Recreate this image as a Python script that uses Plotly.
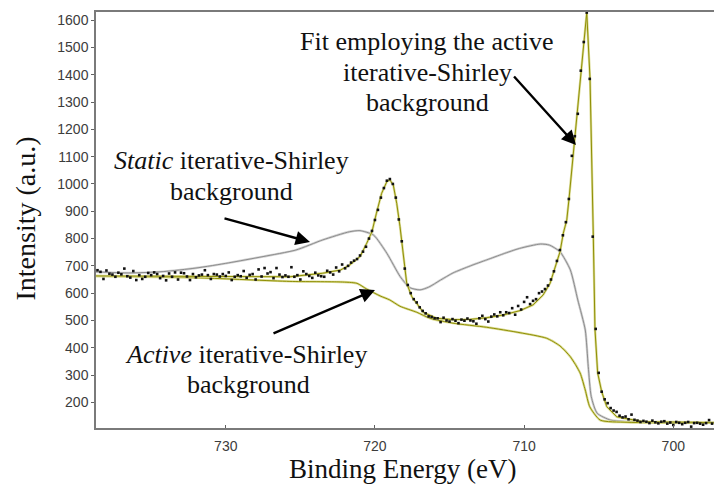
import plotly.graph_objects as go

# ---------------- data ----------------
x_ticks = [730, 720, 710, 700]
y_ticks = [200, 300, 400, 500, 600, 700, 800, 900, 1000, 1100, 1200, 1300, 1400, 1500, 1600]

data_energy = [
    738.6, 738.4, 738.2, 738.0, 737.8, 737.6, 737.4, 737.2, 737.0, 736.8,
    736.6, 736.4, 736.2, 736.0, 735.8, 735.6, 735.4, 735.2, 735.0, 734.8,
    734.6, 734.4, 734.2, 734.0, 733.8, 733.6, 733.4, 733.2, 733.0, 732.8,
    732.6, 732.4, 732.2, 732.0, 731.8, 731.6, 731.4, 731.2, 731.0, 730.8,
    730.6, 730.4, 730.2, 730.0, 729.8, 729.6, 729.4, 729.2, 729.0, 728.8,
    728.6, 728.4, 728.2, 728.0, 727.8, 727.6, 727.4, 727.2, 727.0, 726.8,
    726.6, 726.4, 726.2, 726.0, 725.8, 725.6, 725.4, 725.2, 725.0, 724.8,
    724.6, 724.4, 724.2, 724.0, 723.8, 723.6, 723.4, 723.2, 723.0, 722.8,
    722.6, 722.4, 722.2, 722.0, 721.8, 721.6, 721.4, 721.2, 721.0, 720.8,
    720.6, 720.4, 720.2, 720.0, 719.8, 719.6, 719.4, 719.2, 719.0, 718.8,
    718.6, 718.4, 718.2, 718.0, 717.8, 717.6, 717.4, 717.2, 717.0, 716.8,
    716.6, 716.4, 716.2, 716.0, 715.8, 715.6, 715.4, 715.2, 715.0, 714.8,
    714.6, 714.4, 714.2, 714.0, 713.8, 713.6, 713.4, 713.2, 713.0, 712.8,
    712.6, 712.4, 712.2, 712.0, 711.8, 711.6, 711.4, 711.2, 711.0, 710.8,
    710.6, 710.4, 710.2, 710.0, 709.8, 709.6, 709.4, 709.2, 709.0, 708.8,
    708.6, 708.4, 708.2, 708.0, 707.8, 707.6, 707.4, 707.2, 707.0, 706.8,
    706.6, 706.4, 706.2, 706.0, 705.8, 705.6, 705.4, 705.2, 705.0, 704.8,
    704.6, 704.4, 704.2, 704.0, 703.8, 703.6, 703.4, 703.2, 703.0, 702.8,
    702.6, 702.4, 702.2, 702.0, 701.8, 701.6, 701.4, 701.2, 701.0, 700.8,
    700.6, 700.4, 700.2, 700.0, 699.8, 699.6, 699.4, 699.2, 699.0, 698.8,
    698.6, 698.4, 698.2, 698.0, 697.8, 697.6, 697.4,
]
data_intensity = [
    684, 678, 652, 683, 671, 668, 660, 675, 669, 690,
    662, 657, 681, 648, 666, 652, 660, 674, 666, 676,
    670, 655, 663, 647, 672, 660, 676, 650, 675, 673,
    661, 648, 670, 658, 665, 668, 684, 666, 652, 670,
    668, 661, 670, 663, 676, 648, 660, 666, 662, 681,
    656, 667, 670, 650, 687, 661, 692, 672, 677, 655,
    692, 668, 659, 665, 660, 695, 660, 666, 650, 680,
    670, 663, 656, 675, 665, 662, 660, 682, 676, 668,
    694, 680, 705, 691, 700, 712, 719, 725, 738, 752,
    770, 800, 828, 868, 905, 950, 985, 1012, 1018, 1000,
    950, 870, 790, 690, 630, 600, 578, 566, 548, 535,
    526, 515, 513, 508, 508, 494, 510, 500, 496, 505,
    499, 490, 503, 499, 507, 500, 497, 488, 508, 517,
    505, 496, 514, 522, 515, 530, 519, 530, 527, 545,
    521, 553, 540, 568, 585, 560, 572, 578, 600, 606,
    615, 628, 650, 680, 718, 758, 812, 860, 945, 1103,
    1175, 1257, 1415, 1520, 1628, 1385, 807, 469, 308, 239,
    211, 197, 179, 170, 165, 151, 145, 148, 138, 155,
    136, 133, 128, 132, 129, 124, 133, 127, 123, 129,
    131, 122, 126, 117, 128, 125, 120, 125, 128, 111,
    124, 125, 122, 118, 124, 135, 122,
]

fit_energy = [738.7, 735.1, 731.7, 728.4, 725.7, 723.5, 722.3, 721.7, 721.0, 720.55,
              720.2, 719.9, 719.55, 719.2, 719.0, 718.77, 718.54, 718.32, 718.1, 717.87,
              717.53, 717.2, 716.76, 715.86, 714.77, 713.63, 712.51, 711.41, 710.27, 709.4,
              708.73, 708.26, 707.93, 707.59, 707.37, 707.14, 706.99, 705.8, 705.58, 705.47,
              705.4, 705.36, 705.25, 705.07, 704.8, 704.46, 703.79, 702.03, 698.68, 697.27]
fit_intensity = [663, 662, 660, 660, 660, 673, 685, 703, 734, 783,
                 825, 893, 966, 1009, 1015, 996, 929, 844, 734, 636,
                 587, 563, 530, 508, 503, 504, 510, 520, 536, 557,
                 593, 636, 697, 752, 820, 868, 945, 1628, 1385, 1100,
                 1000, 807, 469, 308, 239, 184, 147, 129, 127, 125]

static_energy = [738.7, 736.5, 734.2, 732.0, 729.8, 727.5, 725.3, 723.5, 721.7, 721.0,
                 720.1, 719.2, 718.3, 717.65, 716.98, 716.4, 715.6, 714.77, 713.6, 712.5,
                 711.4, 710.3, 708.9, 708.3, 707.6, 706.9, 706.4, 705.9, 705.7, 705.5,
                 705.1, 704.2, 702.0, 697.27]
static_intensity = [678, 674, 679, 692, 711, 734, 758, 795, 825, 829,
                    813, 746, 660, 620, 612, 622, 648, 674, 700, 722,
                    744, 764, 780, 776, 752, 685, 575, 465, 331, 221,
                    160, 135, 127, 125]

active_energy = [738.7, 731.7, 725.7, 722.3, 721.2, 720.55, 719.66, 719.0, 718.32, 717.2,
                 716.3, 714.77, 712.51, 710.27, 708.5, 707.6, 706.9, 706.25, 705.9, 705.6,
                 704.9, 703.1, 697.27]
active_intensity = [663, 656, 643, 641, 636, 615, 590, 575, 552, 530,
                    508, 490, 475, 455, 435, 407, 367, 308, 245, 184,
                    135, 127, 125]

# ---------------- layout geometry ----------------
W, H = 714, 488
L, R, T, B = 96, 714, 12, 428


def px(x):
    return (x - L) / (R - L)


def py(y):
    return (B - y) / (B - T)


OLIVE = "#8f8f05"
OLIVE_HALO = "#dcdc96"
GRAY = "#8c8c8c"
GRAY_HALO = "#d2d2d2"

fig = go.Figure()


def add_line(xs, ys, core, halo, shape):
    fig.add_trace(go.Scatter(x=xs, y=ys, mode="lines", hoverinfo="skip",
                             line=dict(color=halo, width=2.4, shape=shape, smoothing=0.6)))
    fig.add_trace(go.Scatter(x=xs, y=ys, mode="lines", hoverinfo="skip",
                             line=dict(color=core, width=1.0, shape=shape, smoothing=0.6)))


add_line(static_energy, static_intensity, GRAY, GRAY_HALO, "spline")
add_line(active_energy, active_intensity, OLIVE, OLIVE_HALO, "spline")
add_line(fit_energy, fit_intensity, OLIVE, OLIVE_HALO, "linear")

fig.add_trace(go.Scatter(x=data_energy, y=data_intensity, mode="markers",
                         marker=dict(symbol="square", size=2.6, color="#111111",
                                     line=dict(width=0))))

tickfont = dict(family="Liberation Sans, Arial", size=14, color="#3c3c3c")

fig.update_xaxes(range=[738.7, 697.27], tickvals=x_ticks, ticks="inside", ticklen=3,
                 tickcolor="#606060", showline=True, linecolor="#7a7a7a", linewidth=1.5,
                 mirror=True, showgrid=False, zeroline=False, tickfont=tickfont,
                 ticklabelstandoff=4)
fig.update_yaxes(range=[106, 1630], tickvals=y_ticks, ticks="outside", ticklen=3,
                 tickcolor="#606060", showline=True, linecolor="#7a7a7a", linewidth=1.5,
                 showgrid=False, zeroline=False, tickfont=tickfont)

SERIF = "Liberation Serif, Times New Roman, serif"
ann = []


def text(x, baseline, s, size=26):
    ann.append(dict(x=px(x), y=py(baseline - 0.34 * size), xref="paper", yref="paper",
                    text=s, showarrow=False, xanchor="center", yanchor="middle",
                    font=dict(family=SERIF, size=size, color="#111111")))


def arrow(tail, head):
    ann.append(dict(x=px(head[0]), y=py(head[1]), xref="paper", yref="paper",
                    ax=tail[0] - head[0], ay=tail[1] - head[1], text="",
                    showarrow=True, arrowhead=2, arrowsize=1.2, arrowwidth=2.4,
                    arrowcolor="#000000"))


text(426, 50, "Fit employing the active")
text(428, 81, "iterative-Shirley")
text(428, 111, "background")
arrow((512.7, 75), (576, 145))

text(231.5, 169, "<i>Static</i> iterative-Shirley")
text(231.5, 200, "background")
arrow((223, 218), (310, 242))

text(246, 363, "<i>Active</i> iterative-Shirley")
text(248, 393, "background")
arrow((272, 334), (375, 290))

# axis titles
ann.append(dict(x=px(402), y=py(469), xref="paper", yref="paper",
                text="Binding Energy (eV)", showarrow=False, xanchor="center",
                yanchor="middle", font=dict(family=SERIF, size=27, color="#111111")))
ann.append(dict(x=px(25), y=py(218.5), xref="paper", yref="paper",
                text="Intensity (a.u.)", showarrow=False, textangle=-90,
                xanchor="center", yanchor="middle",
                font=dict(family=SERIF, size=28, color="#111111")))

fig.update_layout(width=W, height=H, margin=dict(l=L, r=W - R, t=T, b=H - B),
                  plot_bgcolor="white", paper_bgcolor="white", showlegend=False,
                  annotations=ann)

fig.write_html("out.html")
